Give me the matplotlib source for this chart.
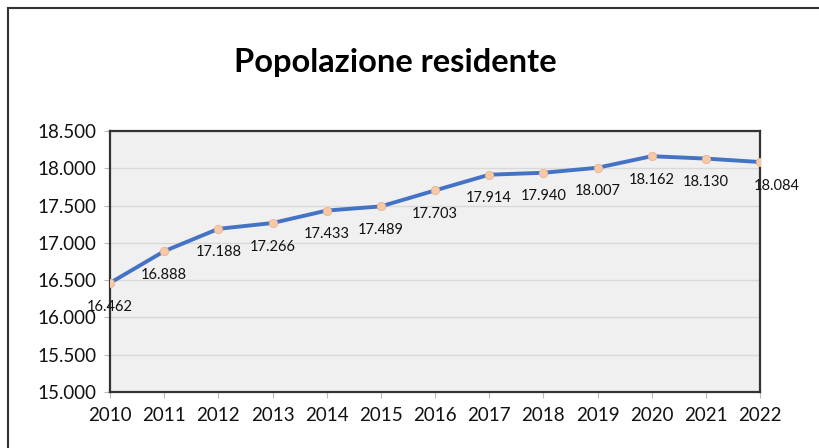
import matplotlib.pyplot as plt
from matplotlib.lines import Line2D

# data
years = [2010, 2011, 2012, 2013, 2014, 2015, 2016, 2017, 2018, 2019, 2020, 2021, 2022]
population = [16462, 16888, 17188, 17266, 17433, 17489, 17703, 17914, 17940, 18007, 18162, 18130, 18084]
y_ticks = [15000, 15500, 16000, 16500, 17000, 17500, 18000, 18500]


def it_fmt(v):
    return f"{int(v):,}".replace(',', '.')


plt.rcParams['font.family'] = ['Lato', 'DejaVu Sans']

fig = plt.figure(figsize=(8.2, 4.48), dpi=100, facecolor='white')
ax = fig.add_axes([110 / 820, 56 / 448, 650 / 820, 261 / 448])
ax.set_facecolor('#f0f0f0')

ax.plot(years, population, color='#4472c4', linewidth=2.8, zorder=3,
        marker='o', markersize=6, markerfacecolor='#f7c9a6',
        markeredgecolor='#e8b590', markeredgewidth=0.6)

for i, (x, y) in enumerate(zip(years, population)):
    dx = 12 if i == len(years) - 1 else 0
    ax.annotate(it_fmt(y), (x, y), xytext=(dx, -17), textcoords='offset points',
                ha='center', va='center', fontsize=10.5, color='#111111', zorder=4)

ax.set_xlim(years[0], years[-1])
ax.set_ylim(y_ticks[0], y_ticks[-1])
ax.set_xticks(years)
ax.set_yticks(y_ticks)
ax.set_yticklabels([it_fmt(t) for t in y_ticks])
ax.grid(axis='y', color='#d9d9d9', linewidth=1)
ax.set_axisbelow(True)

for s in ax.spines.values():
    s.set_color('#333333')
    s.set_linewidth(1.6)
ax.tick_params(axis='both', labelsize=13.5, colors='#111111', length=4, width=0.8,
               color='#bbbbbb')
ax.tick_params(axis='x', pad=7)
ax.tick_params(axis='y', pad=6)

fig.text(395 / 820, 1 - 62 / 448, 'Popolazione residente', ha='center', va='center',
         fontsize=23.5, fontweight='bold', color='black')

# outer frame (left and top edges visible)
fig.add_artist(Line2D([8 / 820, 8 / 820], [0, 1 - 8 / 448], transform=fig.transFigure,
                      color='#333333', linewidth=1.5))
fig.add_artist(Line2D([8 / 820, 1], [1 - 8 / 448, 1 - 8 / 448], transform=fig.transFigure,
                      color='#333333', linewidth=1.5))

fig.savefig('out.png', dpi=100)
